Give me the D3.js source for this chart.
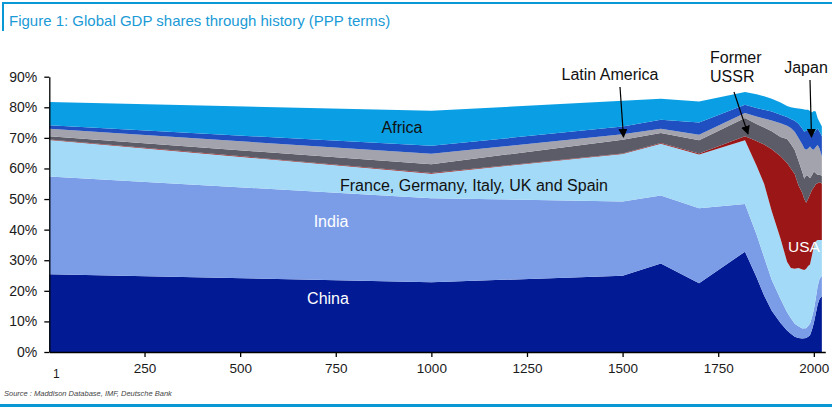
<!DOCTYPE html>
<html>
<head>
<meta charset="utf-8">
<script src="https://cdn.jsdelivr.net/npm/d3@7"></script>
<style>
  html, body { margin: 0; padding: 0; background: #ffffff; }
  svg { display: block; font-family: "Liberation Sans", Arial, sans-serif; }
</style>
</head>
<body>
<svg id="chart" width="832" height="414"></svg>
<script>
// ---- data (shares of world GDP, %) ----
const years        = [1, 1000, 1500, 1600, 1700, 1820, 1850, 1870, 1890, 1913, 1930, 1940, 1950, 1960, 1970, 1975, 1980, 1985, 1990, 1995, 2000, 2005, 2010, 2015, 2021];
const china        = [25.4, 22.8, 24.9, 28.9, 22.5, 32.8, 24.5, 18.5, 13.5, 9.5, 7.0, 6.0, 5.0, 4.6, 4.4, 4.5, 4.6, 5.0, 5.5, 7.2, 9.5, 12.5, 15.5, 17.3, 18.3];
const india        = [32.0, 27.5, 24.3, 22.3, 24.5, 15.6, 14.0, 12.5, 10.0, 7.8, 6.0, 5.0, 4.2, 3.8, 3.3, 3.3, 3.2, 3.5, 3.7, 4.1, 4.3, 5.0, 6.0, 6.6, 6.6];
const europe5      = [11.9, 8.0, 15.5, 16.9, 17.6, 20.8, 22.5, 24.0, 22.5, 19.7, 16.5, 16.5, 18.0, 19.1, 19.3, 19.0, 19.4, 19.6, 19.4, 20.2, 20.7, 18.7, 15.1, 12.7, 11.7];
const usa          = [0.2, 0.2, 0.2, 0.2, 0.3, 1.3, 8.0, 12.8, 20.3, 27.0, 32.3, 32.5, 31.0, 26.9, 25.0, 23.2, 21.6, 21.9, 22.9, 21.5, 19.3, 18.6, 18.6, 18.9, 18.4];
const formerUSSR   = [1.0, 2.9, 4.5, 3.3, 4.3, 6.0, 5.5, 5.6, 5.9, 6.3, 7.8, 8.0, 7.8, 8.1, 6.8, 6.6, 9.0, 7.5, 5.3, 4.8, 5.2, 3.6, 2.7, 2.5, 2.5];
const latinAmerica = [2.5, 3.4, 1.8, 1.4, 1.8, 1.6, 2.5, 2.9, 3.5, 4.5, 4.4, 5.2, 6.0, 7.5, 9.0, 9.9, 8.3, 9.0, 10.4, 8.6, 7.1, 8.6, 9.8, 8.5, 6.4];
const japan        = [1.1, 2.6, 2.5, 2.9, 4.0, 2.7, 2.8, 2.9, 2.9, 2.8, 2.8, 3.0, 3.6, 4.6, 5.2, 5.5, 6.2, 6.1, 5.1, 5.4, 5.4, 5.4, 5.4, 5.5, 6.6];
const africa       = [7.6, 11.5, 8.4, 6.9, 6.9, 4.2, 4.5, 4.4, 4.2, 4.0, 3.6, 3.8, 4.2, 5.0, 6.4, 7.3, 6.9, 6.6, 6.5, 6.5, 7.3, 6.2, 3.3, 3.2, 3.2];

const seriesKeys   = ["China", "India", "Europe5", "USA", "FormerUSSR", "LatinAmerica", "Japan", "Africa"];
const seriesColors = ["#021a93", "#7b9de8", "#a3daf7", "#9b1717", "#5b5c67", "#a2a3ad", "#1f4fc0", "#0a9fe4"];
const yTicks = [0, 10, 20, 30, 40, 50, 60, 70, 80, 90];
const xTicks = [250, 500, 750, 1000, 1250, 1500, 1750, 2000];
const xFirstLabel = "1";

// ---- build table ----
const table = years.map((yr, i) => ({
  year: yr,
  China: china[i], India: india[i], Europe5: europe5[i], USA: usa[i],
  FormerUSSR: formerUSSR[i], LatinAmerica: latinAmerica[i], Japan: japan[i], Africa: africa[i]
}));

const svg = d3.select("#chart");
const blue = "#0a97d6";

// frame: top rule, left bar, bottom rule
svg.append("rect").attr("x", 2).attr("y", 2).attr("width", 830).attr("height", 2).attr("fill", blue);
svg.append("rect").attr("x", 2).attr("y", 2).attr("width", 2).attr("height", 29).attr("fill", blue);
svg.append("rect").attr("x", 0).attr("y", 404).attr("width", 832).attr("height", 3).attr("fill", blue);

svg.append("text").attr("x", 9).attr("y", 26)
  .attr("font-size", 15).attr("fill", "#1a9ad6")
  .text("Figure 1: Global GDP shares through history (PPP terms)");

svg.append("text").attr("x", 4).attr("y", 396)
  .attr("font-size", 7.5).attr("font-style", "italic").attr("fill", "#444")
  .text("Source : Maddison Database, IMF, Deutsche Bank");

// scales
const x = d3.scaleLinear().domain([1, 2030]).range([49.3, 825.3]);
const y = d3.scaleLinear().domain([0, 90]).range([352, 76.7]);

const stack = d3.stack().keys(seriesKeys);
const stacked = stack(table);
const area = d3.area()
  .x(d => x(d.data.year))
  .y0(d => y(d[0]))
  .y1(d => y(d[1]));

svg.append("g").selectAll("path").data(stacked).join("path")
  .attr("d", area)
  .attr("fill", (d, i) => seriesColors[i]);

// axes
const yAxis = d3.axisLeft(y).tickValues(yTicks).tickSize(5).tickSizeOuter(0).tickPadding(7)
  .tickFormat(d => d + "%");
const gy = svg.append("g").attr("transform", "translate(49.3,0)").call(yAxis);
gy.selectAll("text").attr("font-size", 14).attr("fill", "#1a1a1a").attr("font-family", "Liberation Sans, Arial, sans-serif");
gy.selectAll("line,path").attr("stroke", "#000").attr("stroke-width", 1.3);

const xAxis = d3.axisBottom(x).tickValues(xTicks).tickSize(5).tickSizeOuter(0).tickPadding(6)
  .tickFormat(d3.format("d"));
const gx = svg.append("g").attr("transform", "translate(0,352)").call(xAxis);
gx.selectAll("text").attr("font-size", 13.5).attr("fill", "#1a1a1a").attr("font-family", "Liberation Sans, Arial, sans-serif");
gx.selectAll("line,path").attr("stroke", "#000").attr("stroke-width", 1.3);
svg.append("text").attr("x", x(1) + 7).attr("y", 378).attr("text-anchor", "middle")
  .attr("font-size", 12).attr("fill", "#1a1a1a").text(xFirstLabel);

// labels
const lab = (t, cx, cy, col, anchor, fs) => svg.append("text").attr("x", cx).attr("y", cy)
  .attr("text-anchor", anchor || "middle").attr("dominant-baseline", "central")
  .attr("font-size", fs || 16).attr("fill", col).text(t);
lab("Africa", 402, 127, "#111");
lab("France, Germany, Italy, UK and Spain", 474, 185, "#111");
lab("India", 331, 221, "#fff");
lab("China", 328, 298, "#fff");
lab("USA", 804, 246, "#fff", "middle", 15.5);
lab("Latin America", 610, 74, "#111");
lab("Former", 710, 57, "#111", "start");
lab("USSR", 710, 76, "#111", "start");
lab("Japan", 806, 67, "#111");

// arrows
const defs = svg.append("defs");
defs.append("marker").attr("id", "ah").attr("viewBox", "0 0 10 10").attr("refX", 9).attr("refY", 5)
  .attr("markerWidth", 9).attr("markerHeight", 9).attr("markerUnits", "userSpaceOnUse")
  .attr("orient", "auto").append("path").attr("d", "M0,0 L10,5 L0,10 z").attr("fill", "#000");
const arrow = (x1, y1, x2, y2) => svg.append("line").attr("x1", x1).attr("y1", y1).attr("x2", x2).attr("y2", y2)
  .attr("stroke", "#000").attr("stroke-width", 1.2).attr("marker-end", "url(#ah)");
arrow(620, 87, 623.5, 137);
arrow(734, 92, 748, 134);
arrow(810, 80, 811.5, 137);
</script>
</body>
</html>
